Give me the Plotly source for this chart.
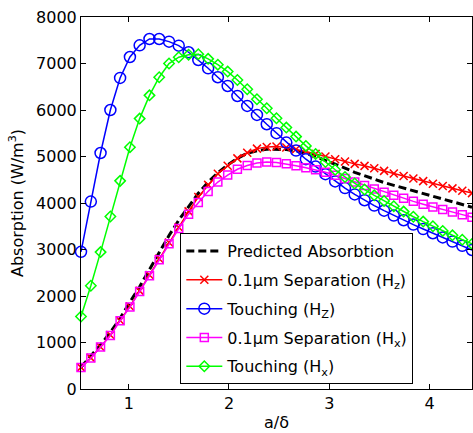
import plotly.graph_objects as go

x_vals = [0.524, 0.622, 0.719, 0.817, 0.914, 1.012, 1.109, 1.207, 1.304, 1.402,
          1.499, 1.597, 1.694, 1.792, 1.889, 1.987, 2.084, 2.182, 2.279, 2.377,
          2.474, 2.572, 2.669, 2.767, 2.864, 2.962, 3.059, 3.157, 3.254, 3.352,
          3.449, 3.547, 3.644, 3.742, 3.839, 3.937, 4.034, 4.132, 4.229, 4.327, 4.424]

predicted = [470, 700, 950, 1220, 1520, 1870, 2200, 2570, 2940, 3300,
             3630, 3930, 4210, 4450, 4650, 4820, 4960, 5070, 5125, 5155,
             5160, 5150, 5120, 5070, 5000, 4920, 4840, 4750, 4660, 4585,
             4510, 4440, 4380, 4320, 4260, 4200, 4140, 4080, 4025, 3965, 3910]

sep_hz = [465, 670, 905, 1160, 1475, 1775, 2110, 2450, 2800, 3150,
          3480, 3820, 4130, 4390, 4630, 4800, 4960, 5080, 5170, 5205,
          5214, 5192, 5157, 5106, 5056, 4998, 4942, 4891, 4841, 4799,
          4749, 4691, 4635, 4580, 4525, 4470, 4415, 4365, 4315, 4262, 4212]

touch_hz = [2950, 4030, 5075, 6000, 6690, 7140, 7390, 7527, 7527, 7470,
            7384, 7242, 7075, 6897, 6704, 6517, 6302, 6087, 5894, 5694,
            5501, 5300, 5127, 4942, 4783, 4620, 4465, 4320, 4185, 4060,
            3945, 3835, 3730, 3630, 3535, 3440, 3350, 3260, 3170, 3080, 2990]

sep_hx = [465, 666, 902, 1152, 1468, 1762, 2097, 2434, 2778, 3122,
          3450, 3760, 4010, 4250, 4450, 4600, 4725, 4805, 4860, 4882,
          4872, 4842, 4800, 4760, 4715, 4660, 4595, 4525, 4450, 4375,
          4300, 4230, 4165, 4100, 4035, 3975, 3915, 3860, 3805, 3750, 3696]

touch_hx = [1560, 2220, 2944, 3710, 4476, 5200, 5815, 6315, 6705, 7000,
            7135, 7190, 7200, 7100, 6975, 6826, 6646, 6446, 6231, 6038,
            5823, 5622, 5428, 5228, 5056, 4880, 4715, 4560, 4420, 4290,
            4165, 4045, 3930, 3815, 3705, 3600, 3500, 3400, 3305, 3210, 3120]

x_ticks = [1, 2, 3, 4]
y_ticks = [0, 1000, 2000, 3000, 4000, 5000, 6000, 7000, 8000]

FONT = "DejaVu Sans, sans-serif"

fig = go.Figure()
fig.add_trace(go.Scatter(x=x_vals, y=predicted, mode="lines",
                         name="Predicted Absorbtion", legendgroup="g1",
                         line=dict(color="black", width=3, dash="8px,4px")))
fig.add_trace(go.Scatter(x=x_vals, y=sep_hz, mode="lines+markers",
                         name="0.1\u03bcm Separation (H<sub>z</sub>)", legendgroup="g2",
                         line=dict(color="#FF0000", width=1.5),
                         marker=dict(symbol="x-thin-open", size=8,
                                     line=dict(color="#FF0000", width=1.5)),
                         cliponaxis=False))
fig.add_trace(go.Scatter(x=x_vals, y=touch_hz, mode="lines+markers",
                         name="Touching (H<sub>Z</sub>)", legendgroup="g3",
                         line=dict(color="#0000FF", width=1.5),
                         marker=dict(symbol="circle-open", size=11,
                                     line=dict(color="#0000FF", width=1.5)),
                         cliponaxis=False))
fig.add_trace(go.Scatter(x=x_vals, y=sep_hx, mode="lines+markers",
                         name="0.1\u03bcm Separation (H<sub>x</sub>)", legendgroup="g4",
                         line=dict(color="#FF00FF", width=1.5),
                         marker=dict(symbol="square-open", size=8,
                                     line=dict(color="#FF00FF", width=1.5)),
                         cliponaxis=False))
fig.add_trace(go.Scatter(x=x_vals, y=touch_hx, mode="lines+markers",
                         name="Touching (H<sub>x</sub>)", legendgroup="g5",
                         line=dict(color="#00FF00", width=1.5),
                         marker=dict(symbol="diamond-open", size=8,
                                     line=dict(color="#00FF00", width=1.5)),
                         cliponaxis=False))

axis_common = dict(showline=True, linecolor="black", linewidth=1,
                   mirror="allticks", ticks="inside", ticklen=5,
                   tickcolor="black", tickwidth=1, showgrid=False,
                   zeroline=False, tickfont=dict(family=FONT, size=16, color="black"))

fig.update_layout(
    width=473, height=433,
    margin=dict(l=81, r=1, t=17, b=44),
    plot_bgcolor="white", paper_bgcolor="white",
    font=dict(family=FONT, size=16, color="black"),
    xaxis=dict(range=[0.524, 4.424], tickvals=x_ticks, ticktext=[str(v) for v in x_ticks],
               title=dict(text="a/\u03b4", font=dict(family=FONT, size=16), standoff=4),
               **axis_common),
    yaxis=dict(range=[0, 8000], tickvals=y_ticks, ticktext=[str(v) for v in y_ticks],
               title=dict(text="Absorption (W/m<sup>3</sup>)", font=dict(family=FONT, size=16), standoff=8),
               **axis_common),
    legend=dict(x=0.254, y=0.419, xanchor="left", yanchor="top",
                bgcolor="white", bordercolor="black", borderwidth=1,
                font=dict(family=FONT, size=16, color="black"),
                traceorder="grouped", tracegroupgap=5, itemwidth=36),
    showlegend=True,
)

fig.write_html("out.html")
